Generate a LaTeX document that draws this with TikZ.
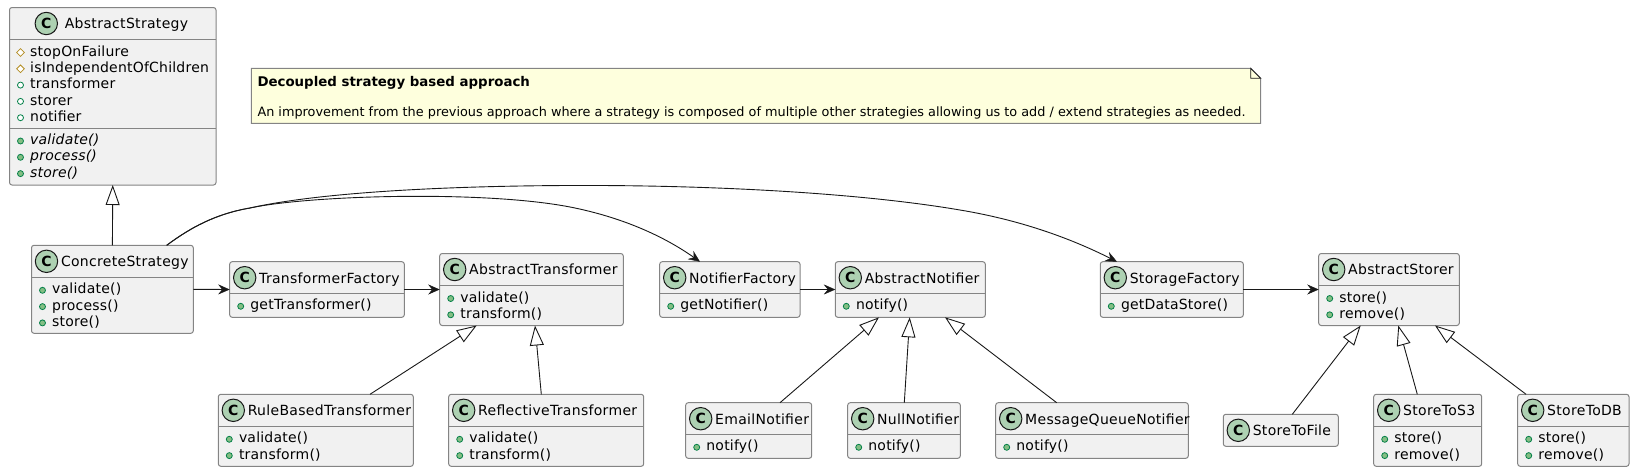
\documentclass[tikz,border=0pt]{standalone}
\usepackage{fontspec}
\setmainfont{DejaVu Sans}
\newfontfamily\titlefont[LetterSpace=2.2]{DejaVu Sans}
\newfontfamily\memberfont[LetterSpace=1.5]{DejaVu Sans}
\usetikzlibrary{arrows.meta, positioning, calc, shapes.geometric}
\definecolor{classbg}{HTML}{F1F1F1}
\definecolor{classborder}{HTML}{848484}
\definecolor{spotbg}{HTML}{ADD1B2}
\definecolor{edgeink}{HTML}{181818}
\definecolor{notebg}{HTML}{FEFFDD}
\definecolor{pubgreen}{HTML}{038048}
\definecolor{pubfill}{HTML}{84BE84}
\definecolor{protgold}{HTML}{B38D22}
\tikzstyle{classbox} = [draw=classborder, fill=classbg, line width=1pt, rectangle, rounded corners=2.5pt, inner sep=0pt, outer sep=0pt, anchor=north west]
\tikzstyle{classrule} = [draw=classborder, line width=1pt]
\tikzstyle{spot} = [circle, draw=edgeink, fill=spotbg, line width=1pt, minimum size=22.4pt, inner sep=0pt, font=\fontsize{14}{16}\bfseries\selectfont]
\tikzstyle{classtitle} = [anchor=base west, inner sep=0pt, font=\titlefont\fontsize{14}{16}\selectfont, text=black]
\tikzstyle{membertext} = [anchor=base west, inner sep=0pt, font=\memberfont\fontsize{14}{16}\selectfont, text=black]
\tikzstyle{pubmethod} = [circle, draw=pubgreen, fill=pubfill, line width=0.8pt, minimum size=6pt, inner sep=0pt]
\tikzstyle{pubfield} = [circle, draw=pubgreen, fill=white, line width=0.8pt, minimum size=6pt, inner sep=0pt]
\tikzstyle{protfield} = [diamond, draw=protgold, fill=white, line width=0.8pt, minimum size=8pt, inner sep=0pt]
\tikzstyle{extends} = [draw=edgeink, line width=0.9pt, -{Triangle[length=20pt, width=14pt, fill=white]}]
\tikzstyle{uses} = [draw=edgeink, line width=0.9pt, -{Stealth[length=11.5pt, width=10pt, inset=4pt, line width=0.4pt]}]
\tikzstyle{notetext} = [anchor=base west, inner sep=0pt, font=\fontsize{12.84}{15}\selectfont, text=black]
\newcommand{\umlclass}[7][0]{%
	\node [classbox, minimum width={#5-#3}, minimum height={#6-#4}] (#2) at (#3,#4) {};
	\node [spot] (#2-spot) at ({#3+15+#1},{#4+16}) {C};
	\node [classtitle] (#2-title) at ({#3+29.3+#1},{#4+21.4}) {#7};
}
\newcommand{\umlrule}[2]{%
	\coordinate (#1-r) at (#1.west |- 0,#2);
	\draw [classrule] (#1-r) -- (#1.east |- #1-r);
}
\newcommand{\member}[4]{%
	\node [#3] (#1-#3#2) at ([shift={(11,{13+16.3*(#2-1)})}]#1-r) {};
	\node [membertext] (#1-text#3#2) at ([shift={(20.5,{16.6+16.3*(#2-1)})}]#1-r) {#4};
}
\begin{document}
\begin{tikzpicture}[x=1pt, y=-1pt]
	\useasboundingbox (0,0) rectangle (1634,472);

	\umlclass[21.8]{absStrategy}{9.5}{7.5}{216}{185}{\hspace{4pt}AbstractStrategy}
	\umlrule{absStrategy}{39.5}
	\member{absStrategy}{1}{protfield}{stopOnFailure}
	\member{absStrategy}{2}{protfield}{isIndependentOfChildren}
	\member{absStrategy}{3}{pubfield}{transformer}
	\member{absStrategy}{4}{pubfield}{storer}
	\member{absStrategy}{5}{pubfield}{notifier}
	\umlrule{absStrategy}{128}
	\member{absStrategy}{1}{pubmethod}{\textit{validate()}}
	\member{absStrategy}{2}{pubmethod}{\textit{process()}}
	\member{absStrategy}{3}{pubmethod}{\textit{store()}}

	\umlclass{conStrategy}{31.5}{245.3}{193.3}{333.3}{ConcreteStrategy}
	\umlrule{conStrategy}{277.3}
	\member{conStrategy}{1}{pubmethod}{validate()}
	\member{conStrategy}{2}{pubmethod}{process()}
	\member{conStrategy}{3}{pubmethod}{store()}

	\umlclass{transFactory}{229.7}{261.7}{404.3}{317.3}{TransformerFactory}
	\umlrule{transFactory}{293.3}
	\member{transFactory}{1}{pubmethod}{getTransformer()}

	\umlclass{absTrans}{439.7}{253.5}{623.3}{325.5}{AbstractTransformer}
	\umlrule{absTrans}{285.5}
	\member{absTrans}{1}{pubmethod}{validate()}
	\member{absTrans}{2}{pubmethod}{transform()}

	\umlclass{ruleTrans}{218.3}{394.3}{413.3}{466.3}{RuleBasedTransformer}
	\umlrule{ruleTrans}{426.3}
	\member{ruleTrans}{1}{pubmethod}{validate()}
	\member{ruleTrans}{2}{pubmethod}{transform()}

	\umlclass{reflTrans}{448.7}{394.3}{643.7}{466.3}{ReflectiveTransformer}
	\umlrule{reflTrans}{426.3}
	\member{reflTrans}{1}{pubmethod}{validate()}
	\member{reflTrans}{2}{pubmethod}{transform()}

	\umlclass{notiFactory}{659.7}{261.7}{800}{317.3}{NotifierFactory}
	\umlrule{notiFactory}{293.3}
	\member{notiFactory}{1}{pubmethod}{getNotifier()}

	\umlclass{absNoti}{835.3}{261.7}{985.3}{317.3}{AbstractNotifier}
	\umlrule{absNoti}{293.3}
	\member{absNoti}{1}{pubmethod}{notify()}

	\umlclass{emailNoti}{685.7}{402.7}{811.7}{458.3}{EmailNotifier}
	\umlrule{emailNoti}{434.3}
	\member{emailNoti}{1}{pubmethod}{notify()}

	\umlclass{nullNoti}{847.7}{402.7}{960.3}{458.3}{NullNotifier}
	\umlrule{nullNoti}{434.3}
	\member{nullNoti}{1}{pubmethod}{notify()}

	\umlclass{queueNoti}{995.7}{402.7}{1188.3}{458.3}{MessageQueueNotifier}
	\umlrule{queueNoti}{434.3}
	\member{queueNoti}{1}{pubmethod}{notify()}

	\umlclass{storeFactory}{1100.3}{261.7}{1243.3}{317.3}{StorageFactory}
	\umlrule{storeFactory}{293.3}
	\member{storeFactory}{1}{pubmethod}{getDataStore()}

	\umlclass{absStorer}{1318.7}{253.5}{1459.3}{325.5}{AbstractStorer}
	\umlrule{absStorer}{285.5}
	\member{absStorer}{1}{pubmethod}{store()}
	\member{absStorer}{2}{pubmethod}{remove()}

	\umlclass{storeFile}{1223.3}{414.3}{1338.3}{446.3}{StoreToFile}

	\umlclass{storeSthree}{1373.7}{394.3}{1481.7}{466.3}{StoreToS3}
	\umlrule{storeSthree}{426.3}
	\member{storeSthree}{1}{pubmethod}{store()}
	\member{storeSthree}{2}{pubmethod}{remove()}

	\umlclass{storeDb}{1517.7}{394.3}{1629}{466.3}{StoreToDB}
	\umlrule{storeDb}{426.3}
	\member{storeDb}{1}{pubmethod}{store()}
	\member{storeDb}{2}{pubmethod}{remove()}

	\node [inner sep=0pt, outer sep=0pt, minimum width=1009.4pt, minimum height=55pt, anchor=north west] (note) at (251.3,68.3) {};
	\draw [classrule, fill=notebg] (note.north west) -- ([xshift=-10pt]note.north east) -- ([yshift=-10pt]note.north east) -- (note.south east) -- (note.south west) -- cycle;
	\draw [draw=edgeink, line width=0.8pt] ([xshift=-10pt]note.north east) -- ++(0,10) -- ++(10,0) -- cycle;
	\node [notetext, font=\fontsize{13.35}{15}\bfseries\selectfont] (noteHead) at (257.3,86) {Decoupled strategy based approach};
	\node [notetext] (noteBody) at (257.3,116) {An improvement from the previous approach where a strategy is composed of multiple other strategies allowing us to add / extend strategies as needed.};

	\draw [extends] (conStrategy.north) -- (absStrategy.south);
	\draw [uses] (conStrategy.east) -- (transFactory.west);
	\draw [uses] (transFactory.east) -- (absTrans.west);
	\draw [uses] (notiFactory.east) -- (absNoti.west);
	\draw [uses] (storeFactory.east) -- (absStorer.west);
	\draw [extends] ([xshift=54.2pt]ruleTrans.north) -- ([xshift=-54.8pt]absTrans.south);
	\draw [extends] ([xshift=-4.9pt]reflTrans.north) -- ([xshift=3.5pt]absTrans.south);
	\draw [extends] ([xshift=31.3pt]emailNoti.north) -- ([xshift=-31.3pt]absNoti.south);
	\draw [extends] ([xshift=0.3pt]nullNoti.north) -- ([xshift=-0.6pt]absNoti.south);
	\draw [extends] ([xshift=-35.3pt]queueNoti.north) -- ([xshift=34.7pt]absNoti.south);
	\draw [extends] ([xshift=11.5pt]storeFile.north) -- ([xshift=-28.3pt]absStorer.south);
	\draw [extends] ([xshift=-10.4pt]storeSthree.north) -- ([xshift=9.3pt]absStorer.south);
	\draw [extends] ([xshift=-47.3pt]storeDb.north) -- ([xshift=46pt]absStorer.south);

	\draw [uses] ([xshift=54.3pt]conStrategy.north) .. controls (190,228) and (215,214) .. (250,208) .. controls (310,195) and (490,190) .. (575,208) .. controls (625,218.5) and (665,237) .. ([xshift=-29.9pt]notiFactory.north);
	\draw [uses] ([xshift=54.3pt]conStrategy.north) .. controls (190,228) and (215,214) .. (250,208) .. controls (330,190) and (480,185) .. (600,185.5) .. controls (720,186) and (860,193) .. (960,210) .. controls (1020,220) and (1070,238) .. ([xshift=-54.8pt]storeFactory.north);
\end{tikzpicture}
\end{document}
